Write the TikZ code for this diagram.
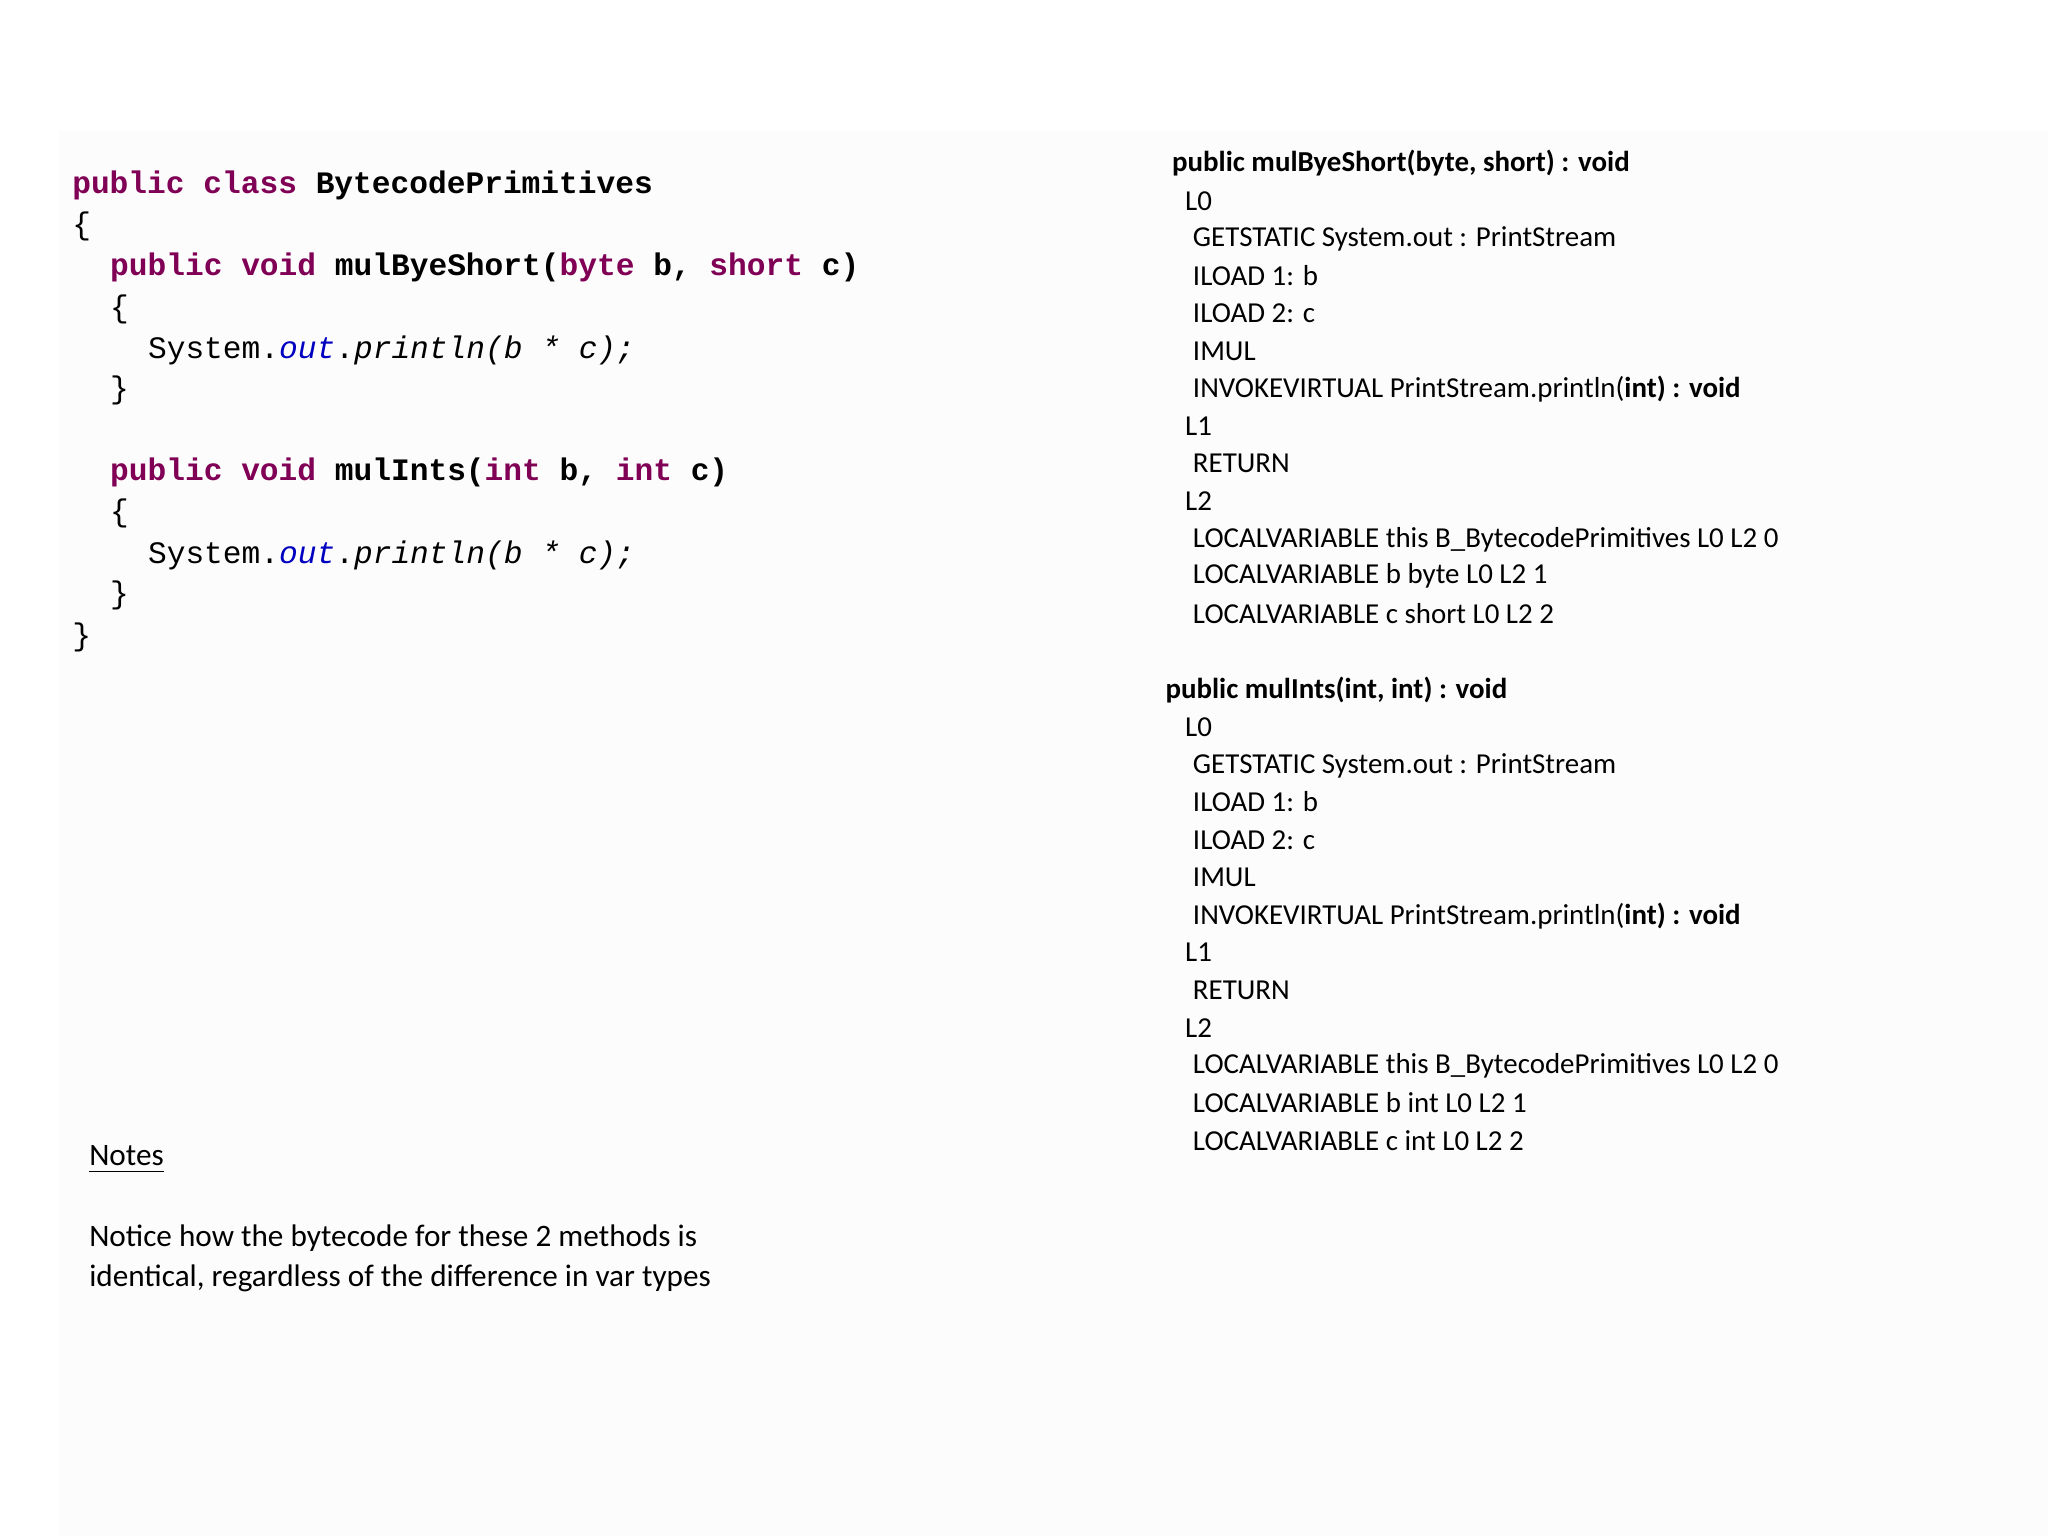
\documentclass[tikz,border=0pt]{standalone}
\usepackage{fontspec}
\setmainfont{Carlito}
\newfontfamily\code{Liberation Mono}
\usepackage{xcolor}
\definecolor{kw}{HTML}{7F0055}
\definecolor{fld}{HTML}{0000C0}
\newcommand{\kw}[1]{\textcolor{kw}{\bfseries #1}}
\begin{document}
\begin{tikzpicture}[x=0.02cm,y=-0.02cm,
  cl/.style={anchor=west,inner sep=0pt,font=\code\fontsize{13.6}{16}\selectfont},
  bl/.style={anchor=west,inner sep=0pt,font=\fontsize{12.6}{15}\selectfont},
  nl/.style={anchor=west,inner sep=0pt,font=\fontsize{13.6}{16}\selectfont}]
\useasboundingbox[fill=white] (0,0) rectangle (1568,1176);
\fill[black!1] (45,100) rectangle (1568,1176);
% code
\node[cl] (c1) at (55,142) {\kw{public class} \textbf{BytecodePrimitives}};
\node[cl] (c2) at (55,173) {\{};
\node[cl] (c3) at (84,205) {\kw{public void} \textbf{mulByeShort(}\kw{byte} \textbf{b,} \kw{short} \textbf{c)}};
\node[cl] (c4) at (84,237) {\{};
\node[cl] (c5) at (113,268) {System.\textcolor{fld}{\itshape out}.\textit{println(b * c);}};
\node[cl] (c6) at (84,299) {\}};
\node[cl] (c7) at (84,362) {\kw{public void} \textbf{mulInts(}\kw{int} \textbf{b,} \kw{int} \textbf{c)}};
\node[cl] (c8) at (84,393) {\{};
\node[cl] (c9) at (113,425) {System.\textcolor{fld}{\itshape out}.\textit{println(b * c);}};
\node[cl] (c10) at (84,456) {\}};
\node[cl] (c11) at (55,488) {\}};
% bytecode 1
\node[bl] (h1) at (897,125) {\textbf{public mulByeShort(byte, short) : void}};
\node[bl] (a1) at (907,154) {L0};
\node[bl] (a2) at (913,183) {GETSTATIC System.out : PrintStream};
\node[bl] (a3) at (913,211) {ILOAD 1: b};
\node[bl] (a4) at (913,240) {ILOAD 2: c};
\node[bl] (a5) at (913,269) {IMUL};
\node[bl] (a6) at (913,298) {INVOKEVIRTUAL PrintStream.println(\textbf{int) : void}};
\node[bl] (a7) at (907,326) {L1};
\node[bl] (a8) at (913,355) {RETURN};
\node[bl] (a9) at (907,384) {L2};
\node[bl] (a10) at (913,413) {LOCALVARIABLE this B\_BytecodePrimitives L0 L2 0};
\node[bl] (a11) at (913,441) {LOCALVARIABLE b byte L0 L2 1};
\node[bl] (a12) at (913,470) {LOCALVARIABLE c short L0 L2 2};
% bytecode 2
\node[bl] (h2) at (892,528) {\textbf{public mulInts(int, int) : void}};
\node[bl] (b1) at (907,557) {L0};
\node[bl] (b2) at (913,586) {GETSTATIC System.out : PrintStream};
\node[bl] (b3) at (913,614) {ILOAD 1: b};
\node[bl] (b4) at (913,643) {ILOAD 2: c};
\node[bl] (b5) at (913,672) {IMUL};
\node[bl] (b6) at (913,701) {INVOKEVIRTUAL PrintStream.println(\textbf{int) : void}};
\node[bl] (b7) at (907,729) {L1};
\node[bl] (b8) at (913,758) {RETURN};
\node[bl] (b9) at (907,787) {L2};
\node[bl] (b10) at (913,816) {LOCALVARIABLE this B\_BytecodePrimitives L0 L2 0};
\node[bl] (b11) at (913,844) {LOCALVARIABLE b int L0 L2 1};
\node[bl] (b12) at (913,873) {LOCALVARIABLE c int L0 L2 2};
% notes
\node[nl] (n0) at (68,885) {Notes};
\draw[line width=0.6pt] ([yshift=-2.5pt]n0.base west) -- ([yshift=-2.5pt]n0.base east);
\node[nl] (n1) at (68,948) {Notice how the bytecode for these 2 methods is};
\node[nl] (n2) at (68,979) {identical, regardless of the difference in var types};
\end{tikzpicture}
\end{document}
